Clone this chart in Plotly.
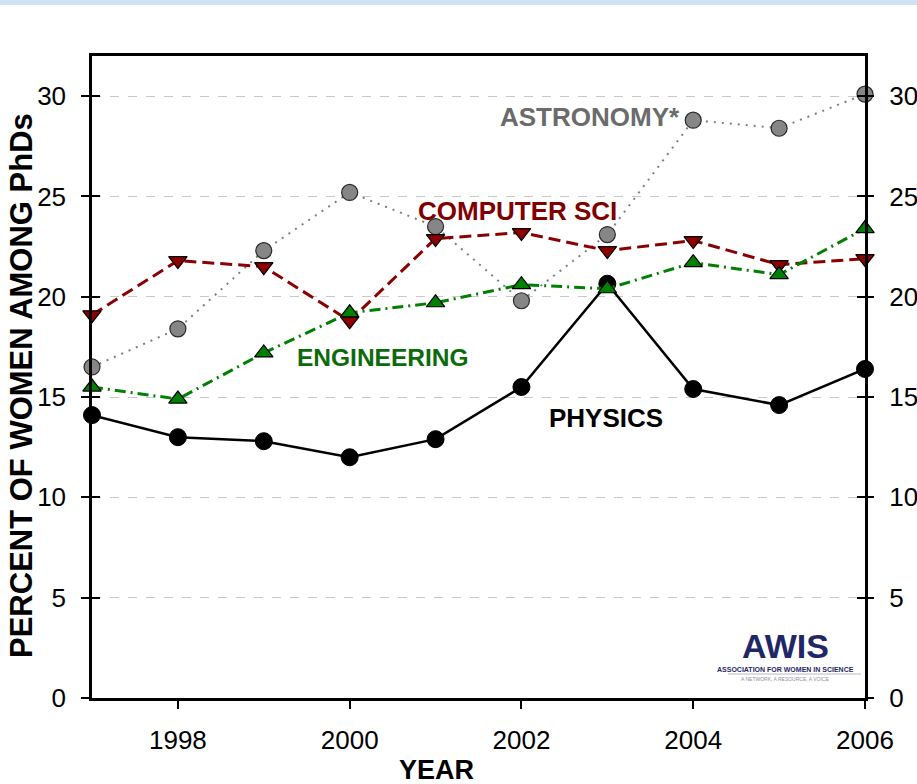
import plotly.graph_objects as go

years = [1997, 1998, 1999, 2000, 2001, 2002, 2003, 2004, 2005, 2006]
astronomy = [16.5, 18.4, 22.3, 25.2, 23.5, 19.8, 23.1, 28.8, 28.4, 30.1]
physics = [14.1, 13.0, 12.8, 12.0, 12.9, 15.5, 20.65, 15.4, 14.6, 16.4]
computer_sci = [19.1, 21.8, 21.5, 18.8, 22.9, 23.2, 22.3, 22.8, 21.6, 21.9]
engineering = [15.5, 14.9, 17.2, 19.2, 19.7, 20.6, 20.4, 21.7, 21.1, 23.4]

x_ticks = [1998, 2000, 2002, 2004, 2006]
y_ticks = [0, 5, 10, 15, 20, 25, 30]

FONT = "Liberation Sans, Arial, sans-serif"

fig = go.Figure()

fig.add_trace(go.Scatter(
    x=years, y=astronomy, mode="lines+markers", name="Astronomy", cliponaxis=False,
    line=dict(color="#7f7f7f", width=2, dash="2px,6px"),
    marker=dict(symbol="circle", size=16, color="#868686", line=dict(color="#2a2a2a", width=1.2)),
))
fig.add_trace(go.Scatter(
    x=years, y=physics, mode="lines+markers", name="Physics", cliponaxis=False,
    line=dict(color="black", width=2.5),
    marker=dict(symbol="circle", size=17, color="black", line=dict(color="black", width=1)),
))
fig.add_trace(go.Scatter(
    x=years, y=computer_sci, mode="lines+markers", name="Computer Sci", cliponaxis=False,
    line=dict(color="#8b0000", width=3, dash="12px,6px"),
    marker=dict(symbol="triangle-down", size=16, color="#8b0000", line=dict(color="black", width=1.2)),
))
fig.add_trace(go.Scatter(
    x=years, y=engineering, mode="lines+markers", name="Engineering", cliponaxis=False,
    line=dict(color="#008000", width=3, dash="11px,5px,2px,5px"),
    marker=dict(symbol="triangle-up", size=16, color="#008000", line=dict(color="black", width=1.2)),
))

# invisible traces anchoring the extra axes (right labels, crossing ticks)
for ax in ["y2", "y3", "y4"]:
    fig.add_trace(go.Scatter(x=[1997], y=[0], yaxis=ax, mode="markers", marker=dict(opacity=0),
                             showlegend=False, hoverinfo="skip"))

ax_common = dict(range=[0, 32], tickvals=y_ticks, tickfont=dict(family=FONT, size=26, color="black"),
                 tickcolor="black", tickwidth=1.5, ticklen=8, automargin=False)

fig.update_layout(
    width=917, height=784,
    margin=dict(l=92, r=52, t=56, b=86, autoexpand=False),
    paper_bgcolor="white", plot_bgcolor="white",
    showlegend=False,
    font=dict(family=FONT),
    xaxis=dict(range=[1997, 2006], tickvals=x_ticks, ticks="outside", ticklen=8, tickwidth=1.5,
               tickcolor="black", tickfont=dict(family=FONT, size=26, color="black"),
               ticklabelstandoff=9, automargin=False,
               showline=True, linecolor="black", linewidth=2.5, mirror=True,
               showgrid=False, zeroline=False),
    yaxis=dict(**ax_common, ticks="outside", side="left", ticklabelstandoff=10,
               showline=True, linecolor="black", linewidth=2.5, mirror=True,
               showgrid=True, gridcolor="#c8c8c8", griddash="dash", gridwidth=1.2, zeroline=False),
    yaxis2=dict(**ax_common, ticks="outside", side="right", overlaying="y", ticklabelstandoff=10,
                showline=False, showgrid=False, zeroline=False),
    yaxis3=dict(**ax_common, ticks="inside", side="left", overlaying="y", showticklabels=False,
                showline=False, showgrid=False, zeroline=False),
    yaxis4=dict(**ax_common, ticks="inside", side="right", overlaying="y", showticklabels=False,
                showline=False, showgrid=False, zeroline=False),
)

# top banner strip
fig.add_shape(type="rect", xref="paper", yref="paper", x0=-0.2, x1=1.2, y0=1.0795, y1=1.095,
              fillcolor="#cfe2f3", line=dict(width=0), layer="below")

labels = [
    ("ASTRONOMY*", 2002.80, 28.95, "#6b6b6b", 26),
    ("COMPUTER SCI", 2001.95, 24.25, "#800000", 26),
    ("ENGINEERING", 2000.39, 16.95, "#0b6b0b", 24.5),
    ("PHYSICS", 2002.99, 13.98, "black", 26),
]
for text, xv, yv, col, fs in labels:
    fig.add_annotation(x=xv, y=yv, text=f"<b>{text}</b>", showarrow=False,
                       font=dict(family=FONT, size=fs, color=col), xanchor="center", yanchor="middle")

# axis titles
fig.add_annotation(xref="paper", yref="paper", x=0, y=0.486, xshift=-70, textangle=-90,
                   text="<b>PERCENT OF WOMEN AMONG PhDs</b>", showarrow=False,
                   font=dict(family=FONT, size=31, color="black"), xanchor="center", yanchor="middle")
fig.add_annotation(xref="paper", yref="paper", x=0.446, y=-0.112, text="<b>YEAR</b>", showarrow=False,
                   font=dict(family=FONT, size=27, color="black"), xanchor="center", yanchor="middle")

# AWIS logo (as text)
fig.add_annotation(xref="paper", yref="paper", x=(785 - 92) / 773, y=(698 - 646) / 642,
                   text="<b>AWIS</b>", showarrow=False,
                   font=dict(family="Liberation Sans Narrow, Liberation Sans, sans-serif", size=34, color="#1f2766"),
                   xanchor="center", yanchor="middle")
fig.add_annotation(xref="paper", yref="paper", x=(785 - 92) / 773, y=(698 - 669) / 642,
                   text="<b>ASSOCIATION FOR WOMEN IN SCIENCE</b>", showarrow=False,
                   font=dict(family=FONT, size=7, color="#1f2766"), xanchor="center", yanchor="middle")
fig.add_shape(type="line", xref="paper", yref="paper", x0=(728 - 92) / 773, x1=(861 - 92) / 773,
              y0=(698 - 674) / 642, y1=(698 - 674) / 642, line=dict(color="#b8b8c8", width=1))
fig.add_annotation(xref="paper", yref="paper", x=(785 - 92) / 773, y=(698 - 679) / 642,
                   text="A NETWORK, A RESOURCE, A VOICE", showarrow=False,
                   font=dict(family=FONT, size=5, color="#9090a0"), xanchor="center", yanchor="middle")

fig.write_html("out.html", config={"displayModeBar": False},
               post_script="document.body.style.margin='0';document.body.style.overflow='hidden';")
